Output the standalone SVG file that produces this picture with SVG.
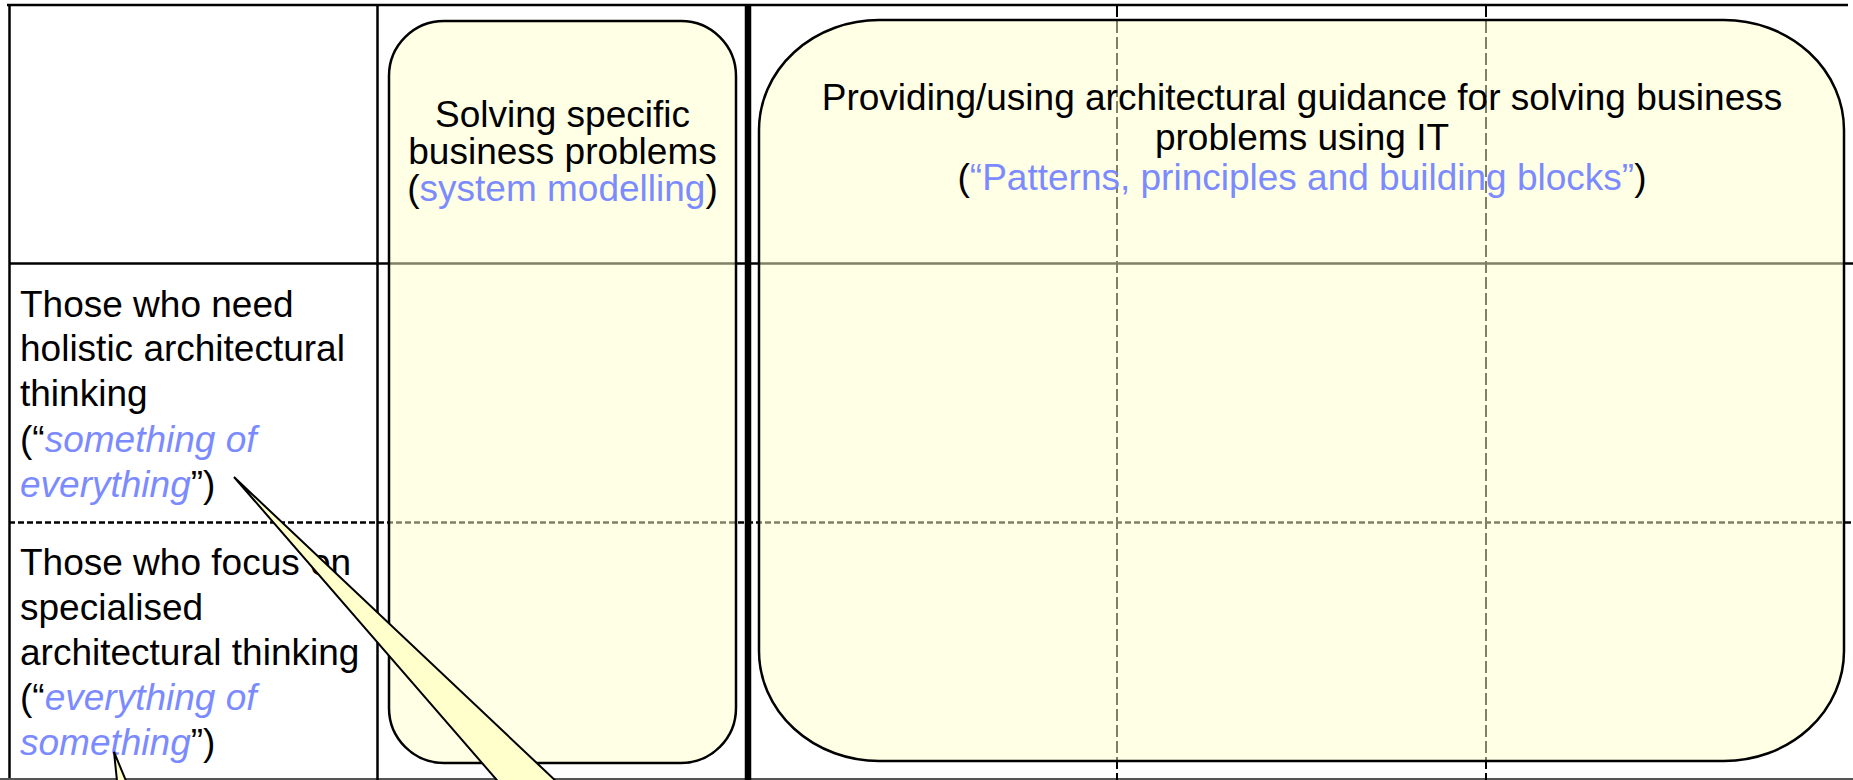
<svg xmlns="http://www.w3.org/2000/svg" width="1853" height="780" viewBox="0 0 1853 780">
<style>
.t{font-family:"Liberation Sans",Arial,sans-serif;font-size:37px;fill:#000}
.b{fill:#7B8BFF}
.i{font-style:italic}
.grid{stroke:#000;stroke-width:2.5;fill:none}
.dh{stroke:#000;stroke-width:2.5;stroke-dasharray:6 3;fill:none}
.dv{stroke:#000;stroke-width:2;stroke-dasharray:12 4;fill:none}
.box{fill:#FFFFCC;fill-opacity:0.5;stroke:#000;stroke-width:2.5}
.tail{fill:#FFFFCC;stroke:#000;stroke-width:2;stroke-linejoin:miter}
</style>
<rect width="1853" height="780" fill="#fff"/>
<g id="grid">
<line class="grid" x1="7" y1="5" x2="1848" y2="5"/>
<line class="grid" x1="9.5" y1="4" x2="9.5" y2="780"/>
<line x1="0" y1="779" x2="1853" y2="779" stroke="#555" stroke-width="2"/>
<line class="grid" x1="9" y1="263.5" x2="1853" y2="263.5"/>
<line class="dh" x1="9" y1="522.5" x2="1853" y2="522.5"/>
<line class="grid" x1="377.5" y1="5" x2="377.5" y2="780"/>
<line x1="748" y1="4" x2="748" y2="780" stroke="#000" stroke-width="6.5"/>
<line class="dv" x1="1117" y1="5" x2="1117" y2="780"/>
<line class="dv" x1="1486" y1="5" x2="1486" y2="780"/>
</g>
<g id="row-holistic">
<text class="t" x="20" y="317">Those who need</text>
<text class="t" x="20" y="361">holistic architectural</text>
<text class="t" x="20" y="406">thinking</text>
<text class="t" x="20" y="452">(“<tspan class="b i">something of</tspan></text>
<text class="t" x="20" y="497"><tspan class="b i">everything</tspan>”)</text>
</g>
<g id="row-specialised">
<text class="t" x="20" y="575">Those who focus on</text>
<text class="t" x="20" y="620">specialised</text>
<text class="t" x="20" y="665">architectural thinking</text>
<text class="t" x="20" y="710">(“<tspan class="b i">everything of</tspan></text>
<text class="t" x="20" y="755"><tspan class="b i">something</tspan>”)</text>
</g>
<g id="box-solving">
<rect class="box" x="389" y="21" width="347" height="742" rx="55" ry="55"/>
<text class="t" x="562.5" y="127" text-anchor="middle">Solving specific</text>
<text class="t" x="562.5" y="164" text-anchor="middle">business problems</text>
<text class="t" x="562.5" y="201" text-anchor="middle">(<tspan class="b">system modelling</tspan>)</text>
</g>
<g id="box-guidance">
<rect class="box" x="759" y="20" width="1085" height="741" rx="120" ry="110"/>
<text class="t" x="1302" y="110" text-anchor="middle">Providing/using architectural guidance for solving business</text>
<text class="t" x="1302" y="150" text-anchor="middle">problems using IT</text>
<text class="t" x="1302" y="190" text-anchor="middle">(<tspan class="b">“Patterns, principles and building blocks”</tspan>)</text>
</g>
<g id="connectors">
<polygon class="tail" points="234,477 577,801 515,801"/>
<polygon class="tail" points="114,752 119,800 134,800"/>
</g>
</svg>
